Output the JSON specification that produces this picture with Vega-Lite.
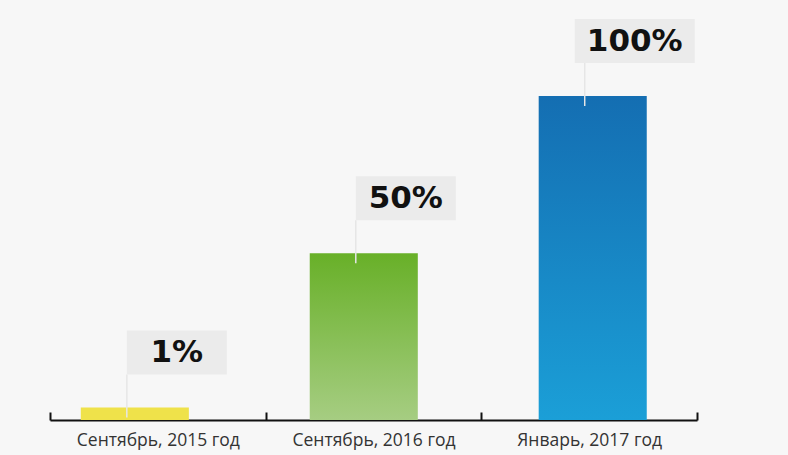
{
  "$schema": "https://vega.github.io/schema/vega-lite/v6.json",
  "width": 647,
  "height": 324,
  "autosize": "none",
  "padding": {"left": 50, "right": 91, "top": 96, "bottom": 35},
  "background": "#f7f7f7",
  "config": {"view": {"stroke": null}},
  "data": {
    "values": [
      {"k": "Сентябрь, 2015 год", "v": 1, "label": "1%"},
      {"k": "Сентябрь, 2016 год", "v": 50, "label": "50%"},
      {"k": "Январь, 2017 год", "v": 100, "label": "100%"}
    ]
  },
  "resolve": {"scale": {"x": "independent"}, "axis": {"x": "independent"}},
  "layer": [
    {
      "encoding": {
        "x": {"field": "k", "type": "nominal", "sort": null,
              "scale": {"paddingInner": 0.528, "paddingOuter": 0.177, "align": 0.38},
              "axis": null},
        "y": {"field": "v", "type": "quantitative", "scale": {"domain": [-3, 100], "nice": false, "zero": false}, "axis": null}
      },
      "layer": [
        {
          "mark": {"type": "bar"},
          "encoding": {
            "y2": {"datum": -3},
            "fill": {
              "condition": [
                {"test": "datum.v < 10", "value": "#efe24a"},
                {"test": "datum.v < 80", "value": {"gradient": "linear", "x1": 0, "y1": 0, "x2": 0, "y2": 1,
                  "stops": [{"offset": 0, "color": "#68b028"}, {"offset": 1, "color": "#a6cd82"}]}}
              ],
              "value": {"gradient": "linear", "x1": 0, "y1": 0, "x2": 0, "y2": 1,
                "stops": [{"offset": 0, "color": "#146eb2"}, {"offset": 1, "color": "#1b9fd7"}]}
            }
          }
        },
        {
          "mark": {"type": "rule", "yOffset": -33, "y2Offset": 10, "xOffset": -8, "color": "#e6e6e6", "strokeWidth": 1.5},
          "encoding": {"y2": {"field": "v"}}
        },
        {
          "mark": {"type": "point", "filled": true, "fill": "#ebebeb", "opacity": 1, "strokeWidth": 0, "xOffset": 42, "yOffset": -55},
          "encoding": {
            "shape": {"condition": {"test": "datum.v >= 100", "value": "M-1,-0.367H1V0.367H-1Z"}, "value": "M-1,-0.44H1V0.44H-1Z"},
            "size": {"condition": {"test": "datum.v >= 100", "value": 14400}, "value": 10000}
          }
        },
        {
          "mark": {"type": "text", "font": "DejaVu Sans", "fontWeight": "bold", "fontSize": 31, "color": "#111111", "baseline": "middle", "align": "center", "xOffset": 42, "yOffset": -54},
          "encoding": {"text": {"field": "label"}}
        }
      ]
    },
    {
      "mark": {"type": "rule", "opacity": 0},
      "encoding": {
        "x": {"field": "k", "type": "nominal", "sort": null,
              "scale": {"paddingInner": 0, "paddingOuter": 0},
              "axis": {"orient": "bottom", "title": null, "labelAngle": 0, "tickBand": "extent",
                       "domainColor": "#111111", "domainWidth": 2, "tickColor": "#111111", "tickWidth": 2, "tickSize": -8,
                       "labelFont": "Open Sans", "labelFontSize": 17.5, "labelColor": "#333333", "labelPadding": 19}}
      }
    }
  ]
}
